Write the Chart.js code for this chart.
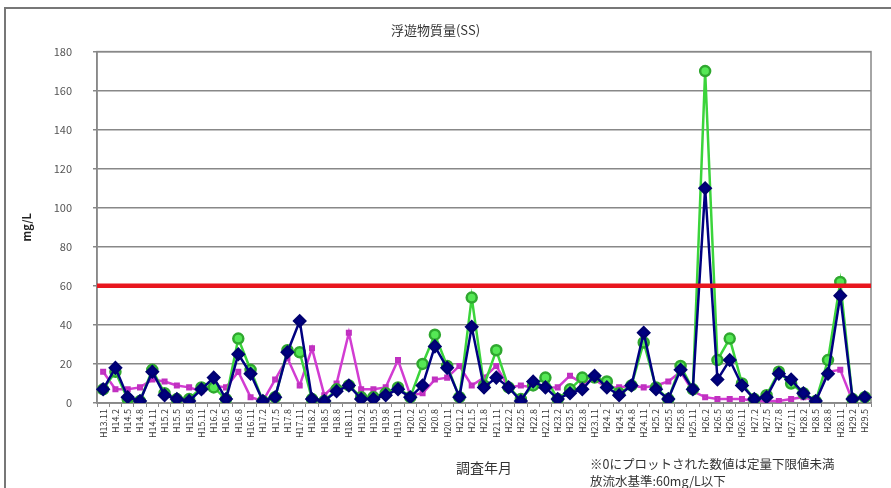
<!DOCTYPE html>
<html>
<head>
<meta charset="utf-8">
<script src="https://cdn.jsdelivr.net/npm/chart.js@4.4.0/dist/chart.umd.min.js"></script>
<style>
  html, body { margin: 0; padding: 0; background: #fff; overflow: hidden; }
  #wrap { position: relative; width: 891px; height: 488px; overflow: hidden; }
  #frame { position: absolute; left: 4px; top: 7px; width: 900px; height: 500px;
           border-left: 2px solid #777; border-top: 2px solid #777; }
  canvas { position: absolute; left: 0; top: 0; }
  .note { position: absolute; left: 590px; font: 12.5px "Noto Sans CJK JP"; color: #333; white-space: nowrap; }
</style>
</head>
<body>
<div id="wrap">
  <div id="frame"></div>
  <canvas id="ssChart" width="891" height="488"></canvas>
  <div class="note" style="top:454px">※0にプロットされた数値は定量下限値未満</div>
  <div class="note" style="top:471px">放流水基準:60mg/L以下</div>
</div>
<script>
const labels = [
  'H13.11', 'H14.2',
  'H14.5', 'H14.8', 'H14.11', 'H15.2',
  'H15.5', 'H15.8', 'H15.11', 'H16.2',
  'H16.5', 'H16.8', 'H16.11', 'H17.2',
  'H17.5', 'H17.8', 'H17.11', 'H18.2',
  'H18.5', 'H18.8', 'H18.11', 'H19.2',
  'H19.5', 'H19.8', 'H19.11', 'H20.2',
  'H20.5', 'H20.8', 'H20.11', 'H21.2',
  'H21.5', 'H21.8', 'H21.11', 'H22.2',
  'H22.5', 'H22.8', 'H22.11', 'H23.2',
  'H23.5', 'H23.8', 'H23.11', 'H24.2',
  'H24.5', 'H24.8', 'H24.11', 'H25.2',
  'H25.5', 'H25.8', 'H25.11', 'H26.2',
  'H26.5', 'H26.8', 'H26.11', 'H27.2',
  'H27.5', 'H27.8', 'H27.11', 'H28.2',
  'H28.5', 'H28.8', 'H28.11', 'H29.2',
  'H29.5'
];
const navySeries = [7, 18, 3, 1, 16, 4, 2, 1, 7, 13, 2, 25, 15, 1, 3, 26, 42, 2, 1, 6,
  9, 2, 2, 4, 7, 3, 9, 29, 18, 3, 39, 8, 13, 8, 1, 11, 8, 2, 5, 7,
  14, 8, 4, 9, 36, 7, 2, 17, 7, 110, 12, 22, 9, 2, 3, 15, 12, 5, 1, 15,
  55, 2, 3];
const greenSeries = [7, 16, 2, 1, 17, 5, 2, 2, 8, 8, 2, 33, 17, 1, 3, 27, 26, 2, 1, 7,
  9, 3, 3, 5, 8, 3, 20, 35, 19, 3, 54, 9, 27, 8, 2, 9, 13, 2, 7, 13,
  13, 11, 5, 9, 31, 8, 2, 19, 7, 170, 22, 33, 10, 2, 4, 16, 10, 5, 1, 22,
  62, 2, 3];
const pinkSeries = [16, 7, 7, 8, 12, 11, 9, 8, 6, 9, 8, 16, 3, 1, 12, 23, 9, 28, 4, 10,
  36, 7, 7, 8, 22, 4, 5, 12, 13, 19, 9, 13, 19, 8, 9, 8, 8, 8, 14, 10,
  12, 8, 8, 9, 8, 9, 11, 16, 6, 3, 2, 2, 2, 1, 1, 1, 2, 3, 1, 16,
  17, 1, 3];
const limitValue = 60;
const yMin = 0, yMax = 180, yStep = 20;

const jp = '"Noto Sans CJK JP", sans-serif';

// red standard line across the whole plot
const limitLine = {
  id: 'limitLine',
  afterDatasetsDraw(chart) {
    const { ctx, chartArea: a, scales: { y } } = chart;
    const py = y.getPixelForValue(limitValue);
    ctx.save();
    ctx.strokeStyle = '#e8161e';
    ctx.lineWidth = 4.5;
    ctx.beginPath();
    ctx.moveTo(a.left, py);
    ctx.lineTo(a.right, py);
    ctx.stroke();
    ctx.restore();
  }
};

const plotBorder = {
  id: 'plotBorder',
  beforeDatasetsDraw(chart) {
    const { ctx, chartArea: a } = chart;
    ctx.save();
    ctx.strokeStyle = '#888';
    ctx.lineWidth = 1.5;
    ctx.strokeRect(a.left, a.top, a.width, a.height);
    ctx.restore();
  }
};

new Chart(document.getElementById('ssChart').getContext('2d'), {
  type: 'line',
  data: {
    labels: labels,
    datasets: [
      {
        data: navySeries,
        borderColor: '#000080',
        backgroundColor: '#000080',
        borderWidth: 2.5,
        pointStyle: 'rectRot',
        pointRadius: 5.5,
        pointBorderColor: '#000070',
        pointBackgroundColor: '#000080',
        tension: 0
      },
      {
        data: greenSeries,
        borderColor: '#3bd43b',
        backgroundColor: '#55e055',
        borderWidth: 2.5,
        pointStyle: 'circle',
        pointRadius: 5,
        pointBorderColor: '#2fa82f',
        pointBackgroundColor: '#55e855',
        tension: 0
      },
      {
        data: pinkSeries,
        borderColor: '#d23cd2',
        backgroundColor: '#d23cd2',
        borderWidth: 2.5,
        pointStyle: 'rect',
        pointRadius: 2.5,
        pointBorderColor: '#c030c0',
        pointBackgroundColor: '#d23cd2',
        tension: 0
      }
    ]
  },
  options: {
    responsive: false,
    animation: false,
    devicePixelRatio: 1,
    layout: { padding: { left: 0, right: 20, top: 10, bottom: 0 } },
    plugins: {
      legend: { display: false },
      tooltip: { enabled: false },
      title: {
        display: true,
        text: '浮遊物質量(SS)',
        color: '#333',
        font: { family: jp, size: 13, weight: 'normal' },
        padding: { top: 12, bottom: 14 }
      }
    },
    scales: {
      x: {
        offset: true,
        grid: { drawOnChartArea: false, offset: true, tickLength: 4, color: '#888', lineWidth: 1 },
        border: { display: true, color: '#888', width: 1.5 },
        ticks: {
          autoSkip: false, minRotation: 90, maxRotation: 90,
          color: '#333', padding: 2,
          font: { family: jp, size: 9 }
        },
        title: {
          display: true, text: '調査年月', color: '#333',
          font: { family: jp, size: 14 },
          padding: { bottom: 12 }
        },
        afterFit(s) { s.height = 85; }
      },
      y: {
        min: yMin, max: yMax,
        grid: { color: '#888', lineWidth: 1.5, tickLength: 4 },
        border: { display: true, color: '#888', width: 1.5 },
        ticks: { stepSize: yStep, color: '#555', padding: 21, font: { family: jp, size: 11 } },
        title: {
          display: true, text: 'mg/L', color: '#222',
          font: { family: jp, size: 11, weight: 'bold' },
          padding: { top: 20 }
        },
        afterFit(s) { s.width = 97; }
      }
    }
  },
  plugins: [plotBorder, limitLine]
});
</script>
</body>
</html>
